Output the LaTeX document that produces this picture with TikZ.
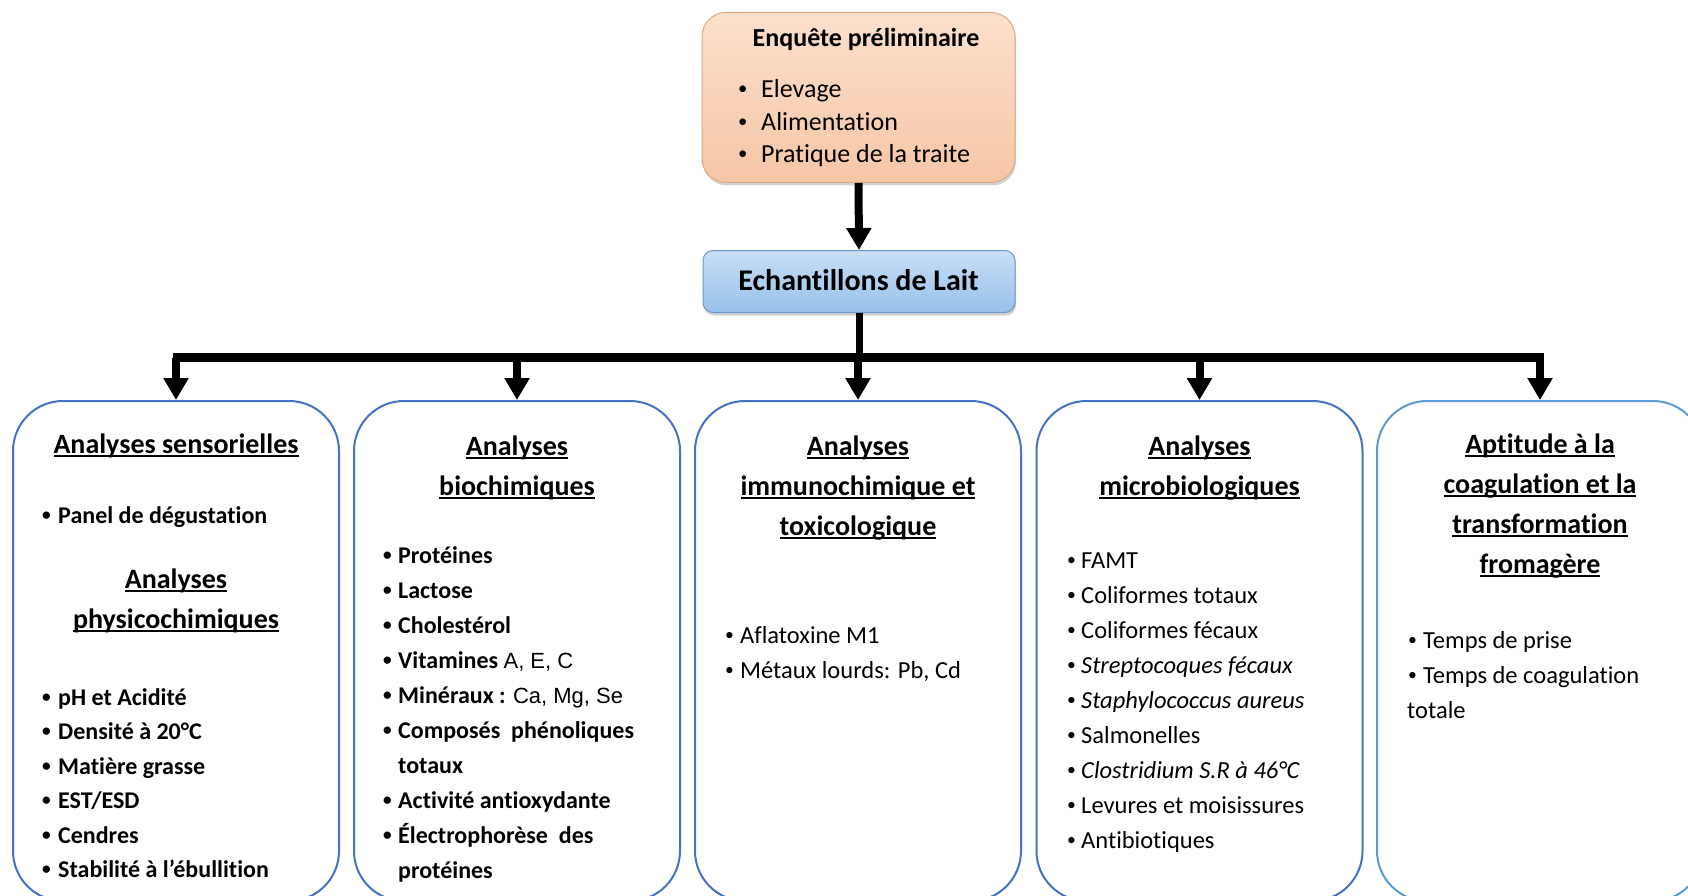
\documentclass[tikz,border=0pt]{standalone}
\usepackage{graphicx}
\usepackage{fontspec}
\setmainfont{Carlito}[Ligatures={NoCommon,NoContextual}]
\newfontfamily\arialf{Liberation Sans}
\usetikzlibrary{arrows.meta,shadows}
\definecolor{boxblue}{RGB}{68,114,196}
\definecolor{boxblueL}{RGB}{91,155,213}
\definecolor{peachT}{RGB}{252,224,204}
\definecolor{peachB}{RGB}{246,198,166}
\definecolor{peachD}{RGB}{222,168,132}
\definecolor{echT}{RGB}{200,223,246}
\definecolor{echB}{RGB}{152,192,234}
\definecolor{echD}{RGB}{110,150,200}
\newcommand\ulx[1]{\leavevmode\setbox0=\hbox{#1}\rlap{\rule[-4pt]{\wd0}{2pt}}\box0}
\newcommand\bul[2][15pt]{\makebox[#1][l]{\raisebox{0.12em}{\scalebox{0.72}{•}}}#2}
\begin{document}
\begin{tikzpicture}[x=1pt,y=-1pt,
  abox/.style={draw=boxblue, line width=2pt, rounded corners=50pt, fill=white,
    minimum width=326pt, minimum height=500pt, anchor=north, inner sep=0pt},
  ttl/.style={anchor=base, inner sep=0pt, font=\fontsize{28}{40}\selectfont\bfseries},
  bb/.style={anchor=base west, inner sep=0pt, font=\fontsize{24}{35}\selectfont\bfseries},
  bn/.style={anchor=base west, inner sep=0pt, font=\fontsize{24.5}{35}\selectfont},
  conn/.style={line width=8pt, -{Triangle[length=22pt,width=24pt]}},
]
\useasboundingbox (0,0) rectangle (1688,896);

% top boxes
\node[draw=peachD, line width=1pt, rounded corners=24pt, top color=peachT, bottom color=peachB,
      minimum width=313pt, minimum height=170pt, anchor=north, inner sep=0pt,
      drop shadow={shadow xshift=1pt, shadow yshift=-3pt, opacity=0.35}] (enq) at (858.5,12) {};
\node[anchor=base, inner sep=0pt, font=\fontsize{26}{32}\selectfont\bfseries] (enqt) at (866,47) {Enquête préliminaire};
\node[anchor=base west, inner sep=0pt, font=\fontsize{26}{32}\selectfont] (enq1) at (738,98) {\bul[23pt]{Elevage}};
\node[anchor=base west, inner sep=0pt, font=\fontsize{26}{32}\selectfont] (enq2) at (738,130.5) {\bul[23pt]{Alimentation}};
\node[anchor=base west, inner sep=0pt, font=\fontsize{26}{32}\selectfont] (enq3) at (738,163) {\bul[23pt]{Pratique de la traite}};

\node[draw=echD, line width=1pt, rounded corners=10pt, top color=echT, bottom color=echB,
      minimum width=312pt, minimum height=62pt, anchor=north, inner sep=0pt,
      drop shadow={shadow xshift=1pt, shadow yshift=-3pt, opacity=0.35}] (ech) at (859,250) {};
\node[anchor=base, inner sep=0pt, font=\fontsize{30}{36}\selectfont\bfseries] (echt) at (858.5,290) {Echantillons de Lait};

% analysis boxes
\node[abox] (b1) at (176,400) {};
\node[abox] (b2) at (517,400) {};
\node[abox] (b3) at (858,400) {};
\node[abox] (b4) at (1199.5,400) {};
\node[abox, draw=boxblueL] (b5) at (1540,400) {};

% connectors
\draw[conn] (enq.south) -- (ech.north);
\coordinate (barL) at (173,357.5);
\coordinate (barR) at (1544,357.5);
\draw[line width=7pt] (ech.south) -- (ech.south |- barL);
\draw[line width=9pt] (barL) -- (barR);
\foreach \b in {b1,b2,b3,b4,b5}{
  \draw[conn] (\b.north |- barL) -- (\b.north);
}

% box 1
\node[ttl] (t1a) at (176,453) {\ulx{Analyses sensorielles}};
\node[bb] (p1) at (42,523) {\bul[16pt]{Panel de dégustation}};
\node[ttl] (t1b) at (176,588) {\ulx{Analyses}};
\node[ttl] (t1c) at (176,628) {\ulx{physicochimiques}};
\node[bb] (q1) at (42,705) {\bul[16pt]{pH et Acidité}};
\node[bb] (q2) at (42,739.5) {\bul[16pt]{Densité à 20°C}};
\node[bb] (q3) at (42,774) {\bul[16pt]{Matière grasse}};
\node[bb] (q4) at (42,808.5) {\bul[16pt]{EST/ESD}};
\node[bb] (q5) at (42,843) {\bul[16pt]{Cendres}};
\node[bb] (q6) at (42,877.5) {\bul[16pt]{Stabilité à l’ébullition}};

% box 2
\node[ttl] (t2a) at (517,455) {\ulx{Analyses}};
\node[ttl] (t2b) at (517,495) {\ulx{biochimiques}};
\node[bb] (r1) at (383,563) {\bul{Protéines}};
\node[bb] (r2) at (383,598) {\bul{Lactose}};
\node[bb] (r3) at (383,633) {\bul{Cholestérol}};
\node[bb] (r4) at (383,668) {\bul{Vitamines {\arialf\mdseries\fontsize{22}{35}\selectfont A, E, C}}};
\node[bb] (r5) at (383,703) {\bul{Minéraux : {\arialf\mdseries\fontsize{22}{35}\selectfont Ca, Mg, Se}}};
\node[bb] (r6) at (383,738) {\bul{Composés~ phénoliques}};
\node[bb] (r7) at (398,773) {totaux};
\node[bb] (r8) at (383,808) {\bul{Activité antioxydante}};
\node[bb] (r9) at (383,843) {\bul{Électrophorèse~ des}};
\node[bb] (r10) at (398,878) {protéines};

% box 3
\node[ttl] (t3a) at (858,455) {\ulx{Analyses}};
\node[ttl] (t3b) at (858,495) {\ulx{immunochimique et}};
\node[ttl] (t3c) at (858,535) {\ulx{toxicologique}};
\node[bn] (s1) at (725,643) {\bul{Aflatoxine M1}};
\node[bn] (s2) at (725,678) {\bul{Métaux lourds: Pb, Cd}};

% box 4
\node[ttl] (t4a) at (1199.5,455) {\ulx{Analyses}};
\node[ttl] (t4b) at (1199.5,495) {\ulx{microbiologiques}};
\node[bn] (u1) at (1067,568) {\bul[14pt]{FAMT}};
\node[bn] (u2) at (1067,603) {\bul[14pt]{Coliformes totaux}};
\node[bn] (u3) at (1067,638) {\bul[14pt]{Coliformes fécaux}};
\node[bn] (u4) at (1067,673) {\bul[14pt]{\itshape Streptocoques fécaux}};
\node[bn] (u5) at (1067,708) {\bul[14pt]{\itshape Staphylococcus aureus}};
\node[bn] (u6) at (1067,743) {\bul[14pt]{Salmonelles}};
\node[bn] (u7) at (1067,778) {\bul[14pt]{\itshape Clostridium S.R à 46°C}};
\node[bn] (u8) at (1067,813) {\bul[14pt]{Levures et moisissures}};
\node[bn] (u9) at (1067,848) {\bul[14pt]{Antibiotiques}};

% box 5
\node[ttl] (t5a) at (1540,453) {\ulx{Aptitude à la}};
\node[ttl] (t5b) at (1540,493) {\ulx{coagulation et la}};
\node[ttl] (t5c) at (1540,533) {\ulx{transformation}};
\node[ttl] (t5d) at (1540,573) {\ulx{fromagère}};
\node[bn] (v1) at (1408,648) {\bul{Temps de prise}};
\node[bn] (v2) at (1408,683) {\bul{Temps de coagulation}};
\node[bn] (v3) at (1407,718) {totale};
\end{tikzpicture}
\end{document}
